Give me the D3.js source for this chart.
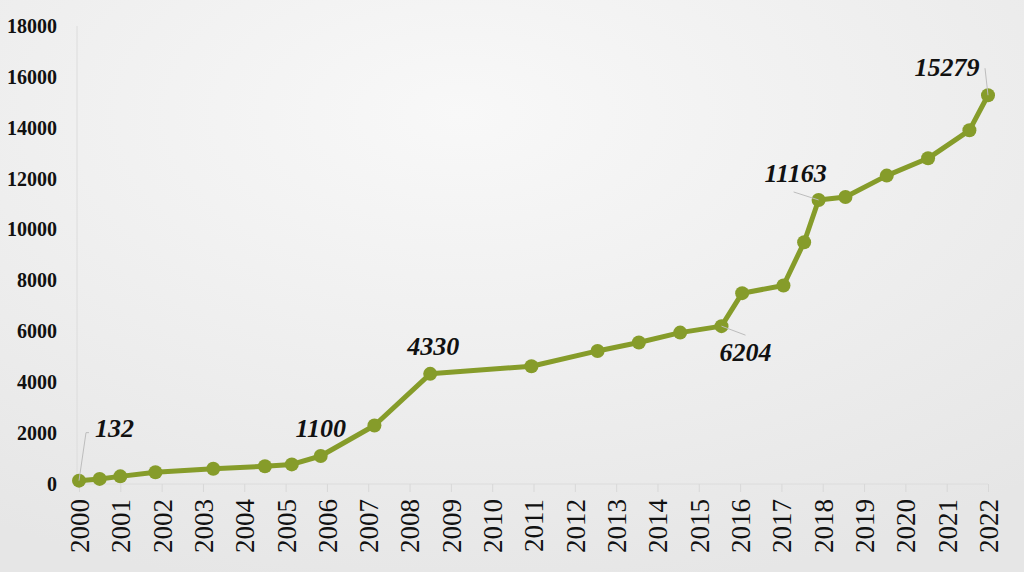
<!DOCTYPE html>
<html>
<head>
<meta charset="utf-8">
<script src="https://cdn.jsdelivr.net/npm/d3@7/dist/d3.min.js"></script>
<style>
  html, body { margin: 0; padding: 0; }
  body { width: 1024px; height: 572px; overflow: hidden; }
  svg { display: block; }
  svg text { font-family: 'Liberation Serif', 'Times New Roman', 'DejaVu Serif', serif; }
</style>
</head>
<body>
<svg id="chart" width="1024" height="572"></svg>
<script>
// data: fractional year -> cumulative count
const years = [2000.0, 2000.5, 2001.0, 2001.85, 2003.25, 2004.5, 2005.15, 2005.85,
  2007.15, 2008.5, 2010.95, 2012.55, 2013.55, 2014.55, 2015.55, 2016.05,
  2017.05, 2017.55, 2017.9, 2018.55, 2019.55, 2020.55, 2021.55, 2022.0];
const values = [132, 200, 300, 460, 600, 700, 770, 1100,
  2300, 4330, 4630, 5230, 5560, 5950, 6204, 7500,
  7800, 9500, 11163, 11280, 12120, 12800, 13900, 15279];
const xTicks = d3.range(2000, 2023);
const yTicks = d3.range(0, 18001, 2000);
// which points carry a value label, and where the label sits relative to the point
const labelled = [
  { i: 0,  dx: 16,  dy: -44, anchor: 'start',  leader: [[7, -48], [10, -48]] },
  { i: 7,  dx: 0,   dy: -19, anchor: 'middle', leader: null },
  { i: 9,  dx: 3,   dy: -19, anchor: 'middle', leader: null },
  { i: 14, dx: 24,  dy: 35,  anchor: 'middle', leader: [[24, 9]] },
  { i: 18, dx: -23, dy: -18, anchor: 'middle', leader: [[-25, -8]] },
  { i: 23, dx: -41, dy: -19, anchor: 'middle', leader: [[-3, -27]] }
];

const serif = "'Liberation Serif', 'Times New Roman', 'DejaVu Serif', serif";
const svg = d3.select('#chart');
const W = 1024, H = 572;

// soft grey backdrop
const defs = svg.append('defs');
const grad = defs.append('radialGradient')
  .attr('id', 'bg')
  .attr('cx', '45%').attr('cy', '20%').attr('r', '85%');
grad.append('stop').attr('offset', '0%').attr('stop-color', '#f8f8f8');
grad.append('stop').attr('offset', '100%').attr('stop-color', '#e6e6e6');
svg.append('rect').attr('width', W).attr('height', H).attr('fill', 'url(#bg)');

const x = d3.scaleLinear().domain([2000, 2022]).range([79, 988]);
const y = d3.scaleLinear().domain([0, 18000]).range([484, 26]);

// axes
const yAxis = svg.append('g')
  .attr('transform', 'translate(77,0)')
  .call(d3.axisLeft(y).tickValues(yTicks).tickSize(0).tickPadding(20).tickFormat(d3.format('d')));
yAxis.attr('font-family', null);
yAxis.select('.domain').attr('stroke', '#dcdcdc').attr('d', `M0,${y(18000)}V${y(0)}`);
yAxis.selectAll('text')
  .style('font-family', serif)
  .style('font-weight', 'bold')
  .style('font-size', '20px')
  .attr('fill', '#111');

const xAxis = svg.append('g')
  .attr('transform', `translate(0,${y(0)})`)
  .call(d3.axisBottom(x).tickValues(xTicks).tickSize(8).tickFormat(d3.format('d')));
xAxis.attr('font-family', null);
xAxis.select('.domain').attr('stroke', '#dcdcdc').attr('d', `M77,0H${x(2022)}`);
xAxis.selectAll('.tick line').attr('stroke', '#d8d8d8');
xAxis.selectAll('text')
  .style('font-family', serif)
  .style('font-size', '27px')
  .attr('fill', '#111')
  .attr('text-anchor', 'end')
  .attr('transform', 'translate(0,15) rotate(-90)')
  .attr('x', 0).attr('y', 0).attr('dy', '0.35em');

// series
const pts = years.map((yr, i) => ({ yr, v: values[i] }));
const green = '#869c2a';

svg.append('path')
  .datum(pts)
  .attr('fill', 'none')
  .attr('stroke', green)
  .attr('stroke-width', 5)
  .attr('stroke-linejoin', 'round')
  .attr('d', d3.line().x(d => x(d.yr)).y(d => y(d.v)));

svg.append('g').selectAll('circle')
  .data(pts)
  .join('circle')
  .attr('cx', d => x(d.yr))
  .attr('cy', d => y(d.v))
  .attr('r', 7)
  .attr('fill', green);

// value labels with thin leader lines
const lab = svg.append('g');
labelled.forEach(l => {
  const px = x(years[l.i]), py = y(values[l.i]);
  if (l.leader) {
    const path = d3.path();
    path.moveTo(px, py);
    l.leader.forEach(([lx, ly]) => path.lineTo(px + lx, py + ly));
    lab.append('path')
      .attr('d', path.toString())
      .attr('fill', 'none')
      .attr('stroke', '#bdbdbd')
      .attr('stroke-width', 1);
  }
  lab.append('text')
    .attr('x', px + l.dx)
    .attr('y', py + l.dy)
    .attr('text-anchor', l.anchor)
    .style('font-family', serif)
    .style('font-style', 'italic')
    .style('font-weight', 'bold')
    .style('font-size', '26px')
    .attr('fill', '#111')
    .text(values[l.i]);
});
</script>
</body>
</html>
